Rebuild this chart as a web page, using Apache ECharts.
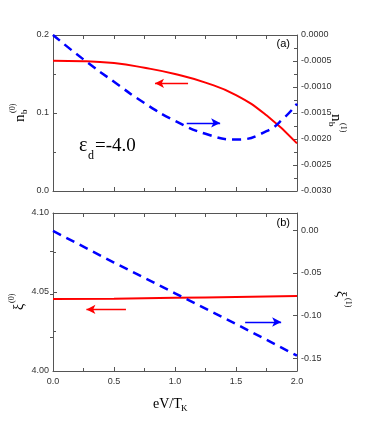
<!DOCTYPE html>
<html>
<head>
<meta charset="utf-8">
<script src="https://cdn.jsdelivr.net/npm/echarts@6/dist/echarts.min.js"></script>
<style>
  html, body { margin: 0; padding: 0; background: #fff; }
  #chart { width: 382px; height: 436px; }
</style>
</head>
<body>
<div id="chart"></div>
<script>
// panel (a): n_b^(0) (left axis) and n_b^(1) (right axis)
var nb0X = [0, 0.25, 0.5, 0.75, 1.0, 1.25, 1.5, 1.75, 2.0]
var nb0Y = [0.167, 0.1665, 0.164, 0.158, 0.150, 0.139, 0.123, 0.097, 0.061]
var nb1X = [0, 0.25, 0.5, 0.75, 1.0, 1.25, 1.5, 1.75, 1.9, 2.0]
var nb1Y = [0, -0.00047, -0.0009, -0.00131, -0.00165, -0.0019, -0.00201, -0.00185, -0.00158, -0.00132]
// panel (b): xi^(0) (left axis) and xi^(1) (right axis)
var xi0X = [0, 0.5, 1.0, 1.5, 2.0]
var xi0Y = [4.0455, 4.0458, 4.0463, 4.0469, 4.0475]
var xi1X = [0, 0.5, 1.0, 1.5, 2.0]
var xi1Y = [-0.001, -0.038, -0.074, -0.110, -0.147]
// tick labels of the right axis in (b)
var xi1Ticks = [0, -0.05, -0.1, -0.15]
var xi1Minor = [-0.025, -0.075, -0.125]

function pairs(xs, ys) {
  return xs.map(function (x, i) { return [x, ys[i]] })
}

var axisColor = '#555'
var labelStyle = { color: '#333', fontSize: 9, fontFamily: 'Liberation Sans' }
var serif = 'Liberation Serif'
var RED = '#ff0000'
var BLUE = '#0000ff'

function xAx(grid, pos, showLabel, interval) {
  return {
    type: 'value', gridIndex: grid, position: pos, min: 0, max: 2, interval: interval,
    axisLine: { show: true, onZero: false, lineStyle: { color: axisColor, width: 1 } },
    axisTick: { show: true, inside: true, length: 4, lineStyle: { color: axisColor } },
    minorTick: { show: pos === 'bottom', splitNumber: 2, length: 3, lineStyle: { color: axisColor } },
    axisLabel: Object.assign({ show: showLabel, margin: 6, formatter: function (v) { return v.toFixed(1) } }, labelStyle),
    splitLine: { show: false }
  }
}

function yAx(grid, pos, min, max, interval, digits) {
  return {
    type: 'value', gridIndex: grid, position: pos, min: min, max: max, interval: interval,
    axisLine: { show: true, onZero: false, lineStyle: { color: axisColor, width: 1 } },
    axisTick: { show: true, inside: true, length: 4, lineStyle: { color: axisColor } },
    minorTick: { show: true, splitNumber: 2, length: 3, lineStyle: { color: axisColor } },
    axisLabel: Object.assign({ margin: 4, formatter: function (v) { return v.toFixed(digits) } }, labelStyle),
    splitLine: { show: false }
  }
}

function arrow(from, to, color) {
  return {
    symbol: ['none', 'arrow'], symbolSize: [7, 9], silent: true, animation: false,
    label: { show: false },
    lineStyle: { color: color, width: 1.3, type: 'solid' },
    data: [[{ coord: from }, { coord: to }]]
  }
}

function txt(x, y, text, size, align, family) {
  return {
    type: 'text', x: x, y: y,
    style: { text: text, fontSize: size, fontFamily: family || serif, fill: '#000', textAlign: align || 'left', textVerticalAlign: 'middle' }
  }
}

var rightXi = yAx(1, 'right', -0.165, 0.02, 0.05, 2)
rightXi.axisLabel.customValues = xi1Ticks
rightXi.axisTick.customValues = xi1Ticks
rightXi.minorTick = { show: false }
var rightXiMinor = {
  type: 'value', gridIndex: 1, position: 'right', min: -0.165, max: 0.02,
  axisLine: { show: false }, axisLabel: { show: false }, splitLine: { show: false },
  axisTick: { show: true, inside: true, length: 3, customValues: xi1Minor, lineStyle: { color: axisColor } }
}

var chart = echarts.init(document.getElementById('chart'))
chart.setOption({
  animation: false,
  backgroundColor: '#fff',
  grid: [
    { left: 53, right: 85, top: 35, height: 156 },
    { left: 53, right: 85, top: 213, height: 158 }
  ],
  xAxis: [
    xAx(0, 'bottom', false, 0.5),
    xAx(0, 'top', false, 0.25),
    xAx(1, 'bottom', true, 0.5),
    xAx(1, 'top', false, 0.25)
  ],
  yAxis: [
    yAx(0, 'left', 0, 0.2, 0.1, 1),
    yAx(0, 'right', -0.003, 0, 0.0005, 4),
    yAx(1, 'left', 4.0, 4.1, 0.05, 2),
    rightXi,
    rightXiMinor
  ],
  series: [
    {
      type: 'line', xAxisIndex: 0, yAxisIndex: 0, data: pairs(nb0X, nb0Y),
      smooth: true, showSymbol: false, lineStyle: { color: RED, width: 2 },
      markLine: arrow([1.107, 0.138], [0.836, 0.138], RED)
    },
    {
      type: 'line', xAxisIndex: 0, yAxisIndex: 1, data: pairs(nb1X, nb1Y),
      smooth: true, showSymbol: false, lineStyle: { color: BLUE, width: 2.5, type: [9, 6] },
      markLine: arrow([1.096, -0.00169], [1.37, -0.00169], BLUE)
    },
    {
      type: 'line', xAxisIndex: 2, yAxisIndex: 2, data: pairs(xi0X, xi0Y),
      smooth: true, showSymbol: false, lineStyle: { color: RED, width: 2 },
      markLine: arrow([0.598, 4.039], [0.274, 4.039], RED)
    },
    {
      type: 'line', xAxisIndex: 2, yAxisIndex: 3, data: pairs(xi1X, xi1Y),
      showSymbol: false, lineStyle: { color: BLUE, width: 2.5, type: [9, 6] },
      markLine: arrow([1.575, -0.1076], [1.87, -0.1076], BLUE)
    }
  ],
  graphic: [
    // panel tags
    txt(290, 44, '(a)', 11, 'right', 'Liberation Sans'),
    txt(290, 223, '(b)', 11, 'right', 'Liberation Sans'),
    // epsilon_d = -4.0
    txt(79, 146, 'ε', 20),
    txt(88, 156, 'd', 12),
    txt(95, 146, '=-4.0', 19),
    // x axis title
    txt(153, 404, 'eV/T', 14),
    txt(181, 409, 'K', 9),
    // left name (a)
    {
      type: 'group', x: 20, y: 114, rotation: Math.PI / 2,
      children: [txt(-8, 0, 'n', 15), txt(0, 5, 'b', 9), txt(1, -7, '(0)', 8)]
    },
    // right name (a)
    {
      type: 'group', x: 336, y: 122, rotation: -Math.PI / 2,
      children: [txt(-8, 0, 'n', 15), txt(0, 5, 'b', 9), txt(1, -7, '(1)', 8)]
    },
    // left name (b)
    {
      type: 'group', x: 19, y: 305, rotation: Math.PI / 2,
      children: [txt(-5, 0, 'ξ', 14), txt(2, -7, '(0)', 8)]
    },
    // right name (b)
    {
      type: 'group', x: 341, y: 296, rotation: -Math.PI / 2,
      children: [txt(-5, 0, 'ξ', 14), txt(2, -7, '(1)', 8)]
    }
  ]
})
</script>
</body>
</html>
